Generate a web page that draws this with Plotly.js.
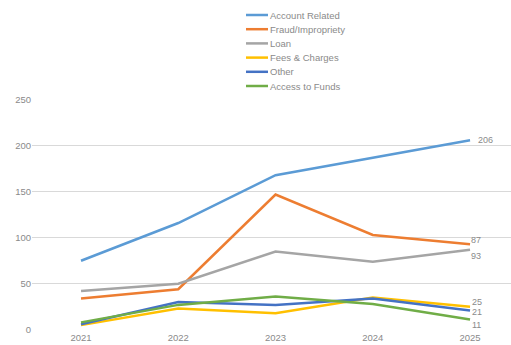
<!DOCTYPE html>
<html>
<head>
<meta charset="utf-8">
<script src="https://cdn.plot.ly/plotly-3.0.1.min.js"></script>
<style>html,body{margin:0;padding:0;background:#fff;}#chart{width:511px;height:345px;}</style>
</head>
<body>
<div id="chart"></div>
<script>
// ---- data ----
const years = ['2021', '2022', '2023', '2024', '2025'];
const seriesNames = ['Account Related', 'Fraud/Impropriety', 'Loan', 'Fees & Charges', 'Other', 'Access to Funds'];
const accountRelated = [75, 116, 168, 187, 206];
const fraudImpropriety = [34, 44, 147, 103, 93];
const loan = [42, 50, 85, 74, 87];
const feesCharges = [5, 23, 18, 35, 25];
const other = [6, 30, 27, 34, 21];
const accessToFunds = [8, 27, 36, 28, 11];
const endLabels = ['206', '87', '93', '25', '21', '11'];
const yTicks = [0, 50, 100, 150, 200, 250];

// ---- styles ----
const colors = ['#5B9BD5', '#ED7D31', '#A5A5A5', '#FFC000', '#4472C4', '#70AD47'];
const labelShift = [[7, 0], [0, 4], [0, -6], [1, 5], [1, -2], [1, -5]];
const FONT = 'Liberation Sans, Arial, sans-serif';
const TXT = '#8a8a8a';

const values = [accountRelated, fraudImpropriety, loan, feesCharges, other, accessToFunds];

const traces = values.map((v, i) => ({
  type: 'scatter', mode: 'lines', x: years, y: v, name: seriesNames[i],
  line: {color: colors[i], width: 2.5}, showlegend: false, hoverinfo: 'skip'
}));

const annotations = [];
const shapes = [];
values.forEach((v, i) => {
  annotations.push({
    xref: 'x', yref: 'y', x: years.length - 1, y: v[v.length - 1],
    text: endLabels[i], showarrow: false, xanchor: 'left', yanchor: 'middle',
    xshift: labelShift[i][0], yshift: labelShift[i][1], borderpad: 0,
    font: {family: FONT, size: 9, color: TXT}
  });
});

// custom legend (paper coords)
const plotL = 32, plotW = 479, plotB = 330, plotH = 231;
const px = x => (x - plotL) / plotW;
const py = y => (plotB - y) / plotH;
seriesNames.forEach((n, i) => {
  const yc = 15 + i * 14.2;
  shapes.push({type: 'line', xref: 'paper', yref: 'paper', x0: px(246), x1: px(268), y0: py(yc), y1: py(yc),
    line: {color: colors[i], width: 2.5}});
  annotations.push({xref: 'paper', yref: 'paper', x: px(268), y: py(yc), text: n, showarrow: false,
    xanchor: 'left', yanchor: 'middle', font: {family: FONT, size: 9.5, color: TXT}});
});

const layout = {
  width: 511, height: 345,
  margin: {l: plotL, r: 0, t: 99, b: 15},
  paper_bgcolor: '#fff', plot_bgcolor: '#fff',
  showlegend: false,
  xaxis: {type: 'category', range: [-0.504, 4.421], showgrid: false, zeroline: false, showline: false,
    ticks: '', tickfont: {family: FONT, size: 9.5, color: TXT}, fixedrange: true},
  yaxis: {range: [-0.3, 250.79], tickvals: yTicks, ticktext: yTicks.map(String), showgrid: true,
    gridcolor: '#d9d9d9', gridwidth: 1, zeroline: false, showline: false, ticks: '',
    tickfont: {family: FONT, size: 9.5, color: TXT}, fixedrange: true},
  annotations: annotations, shapes: shapes
};

Plotly.newPlot('chart', traces, layout, {staticPlot: true, displayModeBar: false});
</script>
</body>
</html>
